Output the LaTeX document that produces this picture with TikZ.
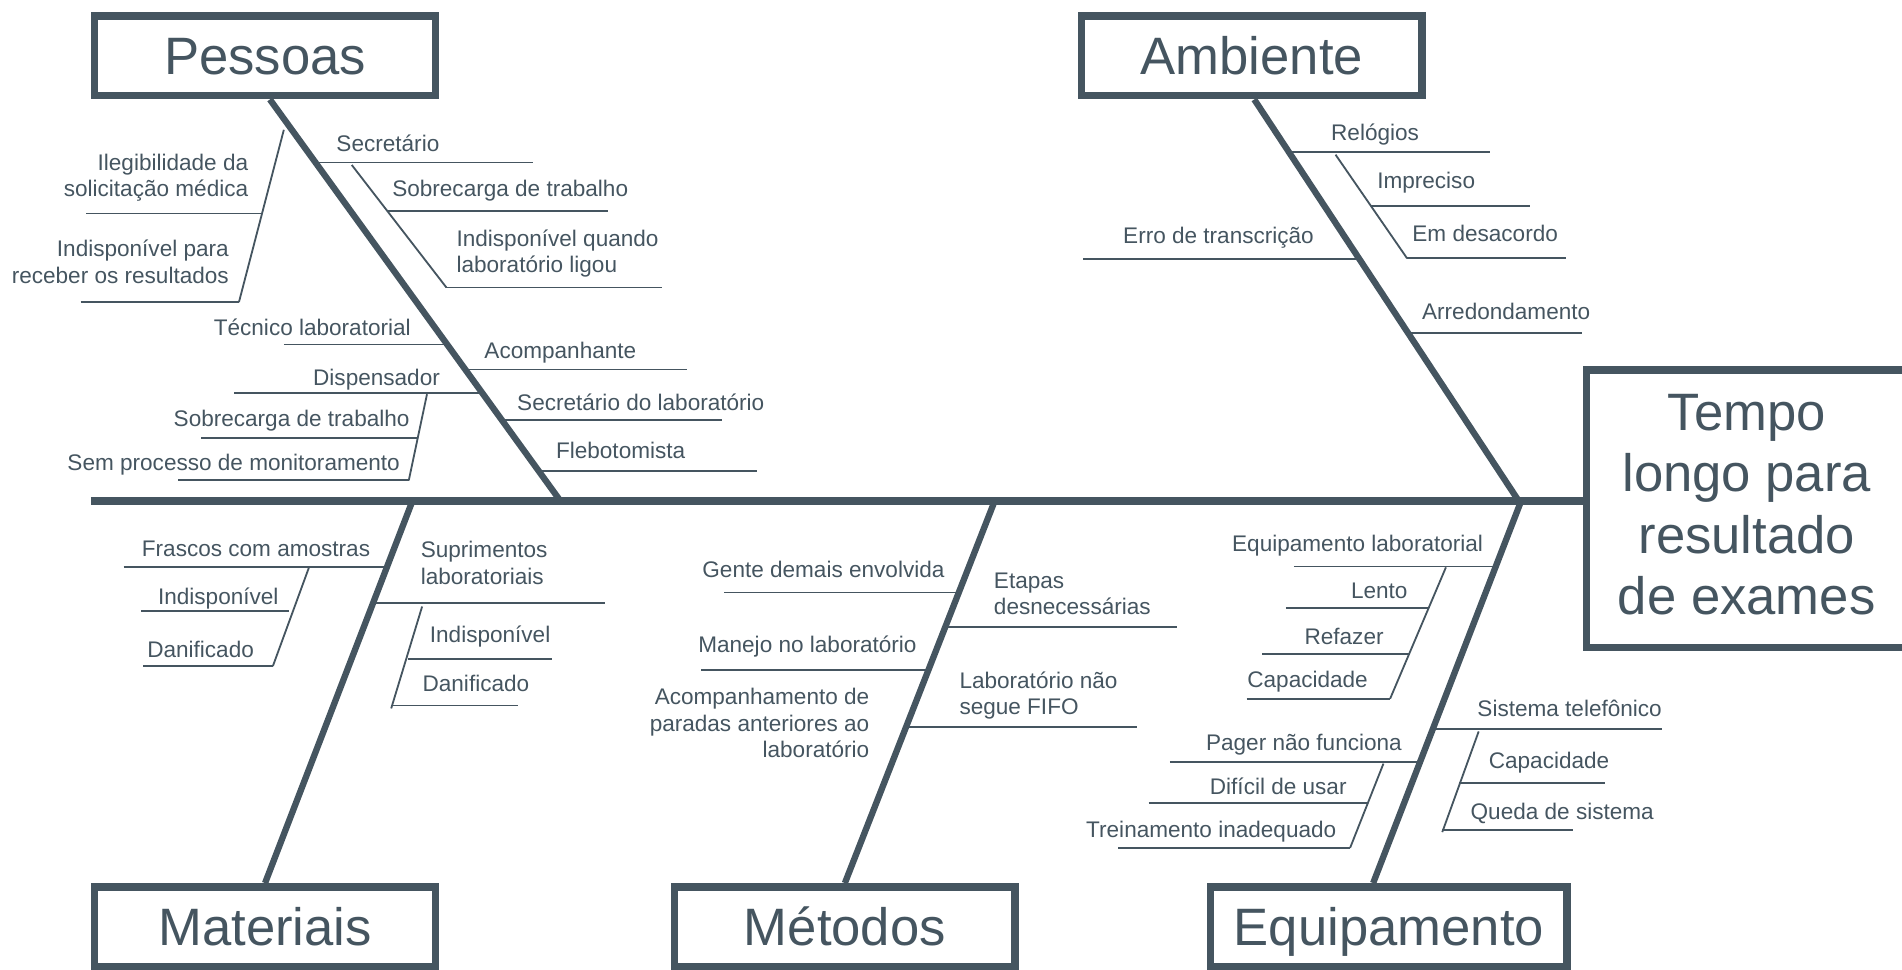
\documentclass[tikz,border=0pt]{standalone}
\usepackage{fontspec}
\setmainfont{Liberation Sans}
\usetikzlibrary{positioning,calc}
\definecolor{fishgray}{HTML}{455560}
\tikzset{
  catbox/.style={draw=fishgray, line width=3.1pt, text=fishgray, minimum width=140.4pt,
    minimum height=32.9pt, inner sep=0pt, text height=15.6pt, text depth=0pt,
    font=\fontsize{21.7}{25}\selectfont},
  effectbox/.style={draw=fishgray, line width=3.1pt, minimum width=132pt, minimum height=114.4pt},
  effecttext/.style={text=fishgray, inner sep=0pt, align=center, font=\fontsize{21.7}{25.2}\selectfont},
  spine/.style={draw=fishgray, line width=3pt},
  bone/.style={draw=fishgray, line width=2.6pt},
  twig/.style={draw=fishgray, line width=0.75pt},
  lbl/.style={text=fishgray, inner sep=0pt, text height=6.7pt, text depth=0pt,
    font=\fontsize{9.3}{11}\selectfont},
  mlbl/.style={text=fishgray, inner sep=0pt, font=\fontsize{9.3}{11}\selectfont},
}
\begin{document}
\begin{tikzpicture}[x=0.5pt,y=-0.5pt]
\useasboundingbox (0,0) rectangle (1568,799);
\clip (0,0) rectangle (1568,799);

% categories and effect
\node[catbox] (pessoas) at (218.5,46) {Pessoas};
\node[catbox] (ambiente) at (1032,46) {Ambiente};
\node[catbox] (materiais) at (218.5,764) {Materiais};
\node[catbox] (metodos) at (696.5,764) {Métodos};
\node[catbox, minimum width=146.9pt] (equip) at (1145,764) {Equipamento};
\node[effectbox] (effect) at (1440,419.3) {};
\node[effecttext] (efftxt) at (1440,416) {Tempo\\longo para\\resultado\\de exames};

% spine and bones
\coordinate (tail) at (75,413);
\coordinate (pJ) at (462,413);
\coordinate (aJ) at (1252,413);
\coordinate (mJ) at (340,413);
\coordinate (tJ) at (820,413);
\coordinate (eJ) at (1254,413);
\draw[spine] (tail) -- (tail -| effect.west);
\draw[bone] ([xshift=2pt]pessoas.south) -- (pJ);
\draw[bone] ([xshift=1pt]ambiente.south) -- (aJ);
\draw[bone] (mJ) -- (materiais.north);
\draw[bone] (tJ) -- (metodos.north);
\draw[bone] (eJ) -- ([xshift=-6.5pt]equip.north);

% Pessoas, right
\draw[twig] (260,134) -- (439,134);
\node[lbl, anchor=west] (secr) at (277,118) {Secretário};
\draw[twig] (290,136) -- (368,237);
\draw[twig] (319,174) -- (501,174);
\node[lbl, anchor=west] (sobr) at (323,155) {Sobrecarga de trabalho};
\draw[twig] (368,237) -- (546,237);
\node[mlbl, anchor=west, align=left] (indq) at (376,209) {Indisponível quando\\laboratório ligou};
\draw[twig] (383,304.6) -- (566,304.6);
\node[lbl, anchor=west] (acomp) at (399,289) {Acompanhante};
\draw[twig] (413,346) -- (595,346);
\node[lbl, anchor=west] (seclab) at (426,332) {Secretário do laboratório};
\draw[twig] (443,388) -- (624,388);
\node[lbl, anchor=west] (flebo) at (458,371.6) {Flebotomista};

% Pessoas, left
\draw[twig] (234,107) -- (197,249);
\draw[twig] (71,176) -- (216,176);
\node[mlbl, anchor=east, align=right] (ileg) at (205,146.5) {Ilegibilidade da\\solicitação médica};
\draw[twig] (66.5,249) -- (197,249);
\node[mlbl, anchor=east, align=right] (indp) at (189,216) {Indisponível para\\receber os resultados};
\draw[twig] (234,284) -- (371,284);
\node[lbl, anchor=east] (tecn) at (339,270) {Técnico laboratorial};
\draw[twig] (193,324) -- (400,324);
\node[lbl, anchor=east] (disp) at (363,311) {Dispensador};
\draw[twig] (352,325) -- (337,396);
\draw[twig] (166,361) -- (344.4,361);
\node[lbl, anchor=east] (sobr2) at (338,345) {Sobrecarga de trabalho};
\draw[twig] (147,396) -- (337,396);
\node[lbl, anchor=east] (semp) at (330,381) {Sem processo de monitoramento};

% Ambiente
\draw[twig] (1064,125.4) -- (1228,125.4);
\node[lbl, anchor=west] (relo) at (1097,109) {Relógios};
\draw[twig] (1101,127.5) -- (1160,213);
\draw[twig] (1130,170) -- (1261,170);
\node[lbl, anchor=west] (impr) at (1135,149) {Impreciso};
\draw[twig] (1160,213) -- (1291,213);
\node[lbl, anchor=west] (desa) at (1164,192) {Em desacordo};
\draw[twig] (1163,274.5) -- (1304,274.5);
\node[lbl, anchor=west] (arre) at (1172,257) {Arredondamento};
\draw[twig] (893,213.7) -- (1122,213.7);
\node[lbl, anchor=east] (erro) at (1083.5,194) {Erro de transcrição};

% Materiais
\draw[twig] (102,467.7) -- (320,467.7);
\node[lbl, anchor=east] (frasc) at (305.5,452) {Frascos com amostras};
\draw[twig] (255,467) -- (225,549);
\draw[twig] (116.5,504) -- (238,504);
\node[lbl, anchor=east] (indm) at (230,492) {Indisponível};
\draw[twig] (118,549) -- (225,549);
\node[lbl, anchor=west] (danm) at (121,535) {Danificado};
\draw[twig] (307,497) -- (499,497);
\node[mlbl, anchor=west, align=left] (supr) at (346.5,464) {Suprimentos\\laboratoriais};
\draw[twig] (348,500) -- (322.5,584);
\draw[twig] (336,543) -- (455,543);
\node[lbl, anchor=west] (inds) at (354,523) {Indisponível};
\draw[twig] (322.5,581.6) -- (427,581.6);
\node[lbl, anchor=west] (dans) at (348,563) {Danificado};

% Métodos
\draw[twig] (597,488.5) -- (792,488.5);
\node[lbl, anchor=east] (gente) at (779,469) {Gente demais envolvida};
\draw[twig] (578,552.5) -- (767,552.5);
\node[lbl, anchor=east] (manej) at (756,531.6) {Manejo no laboratório};
\node[mlbl, anchor=east, align=right] (acpar) at (717,596) {Acompanhamento de\\paradas anteriores ao\\laboratório};
\draw[twig] (778,517) -- (970,517);
\node[mlbl, anchor=west, align=left] (etap) at (819,489.5) {Etapas\\desnecessárias};
\draw[twig] (746,599) -- (937,599);
\node[mlbl, anchor=west, align=left] (fifo) at (790.6,573.5) {Laboratório não\\segue FIFO};

% Equipamento
\draw[twig] (1066.6,467) -- (1235,467);
\node[lbl, anchor=east] (eqlab) at (1223,448) {Equipamento laboratorial};
\draw[twig] (1192,467.7) -- (1146,576);
\draw[twig] (1060,501) -- (1178,501);
\node[lbl, anchor=east] (lent) at (1160.7,487) {Lento};
\draw[twig] (1040.6,539) -- (1162,539);
\node[lbl, anchor=east] (refa) at (1141,524.7) {Refazer};
\draw[twig] (1027.6,576) -- (1146,576);
\node[lbl, anchor=east] (capa) at (1128,560) {Capacidade};
\draw[twig] (964.5,628) -- (1173,628);
\node[lbl, anchor=east] (pager) at (1156,611.7) {Pager não funciona};
\draw[twig] (1140.5,629.5) -- (1113,699);
\draw[twig] (947,662) -- (1128,662);
\node[lbl, anchor=east] (dific) at (1110.5,648) {Difícil de usar};
\draw[twig] (922,699) -- (1113,699);
\node[lbl, anchor=east] (trein) at (1102,684) {Treinamento inadequado};
\draw[twig] (1180,601) -- (1370,601);
\node[lbl, anchor=west] (telef) at (1217.6,584) {Sistema telefônico};
\draw[twig] (1219,603) -- (1189,686);
\draw[twig] (1203,645.6) -- (1323,645.6);
\node[lbl, anchor=west] (capt) at (1227,627) {Capacidade};
\draw[twig] (1189,684.5) -- (1297,684.5);
\node[lbl, anchor=west] (qued) at (1212,669) {Queda de sistema};

\end{tikzpicture}
\end{document}
